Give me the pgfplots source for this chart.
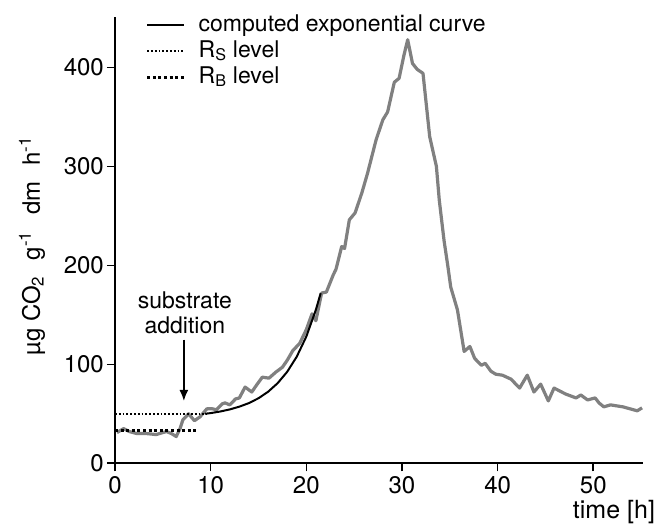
\documentclass[border=0pt]{standalone}
\usepackage{fontspec}
\setmainfont{TeX Gyre Heros}
\usepackage{pgfplots}
\pgfplotsset{compat=1.18}
\usetikzlibrary{arrows.meta}
\definecolor{curvegray}{RGB}{128,128,128}

\begin{document}
\fontsize{23}{25}\selectfont
\begin{tikzpicture}
\begin{axis}[
  scale only axis, width=528pt, height=446.3pt,
  xmin=0, xmax=55.2, ymin=0, ymax=451,
  axis lines=left, axis line style={-, line width=1.6pt},
  tick align=outside, major tick length=8pt,
  tick style={line width=1.6pt, black},
  xtick={0,10,...,50}, ytick={0,100,...,400},
  ticklabel style={font=\fontsize{24}{26}\selectfont},
  /pgf/number format/assume math mode=true,
  yticklabel style={inner xsep=3pt},
  xticklabel style={inner ysep=5pt},
  clip=false,
  xlabel={time [h]},
  xlabel style={at={(axis description cs:1.023,-0.083)}, anchor=north east, inner sep=0pt, font=\fontsize{25}{26}\selectfont},
  ylabel={µg CO\textsubscript{2}\hspace{0.4em} g\textsuperscript{-1}\hspace{0.4em} dm\hspace{0.4em} h\textsuperscript{-1}},
  ylabel style={at={(axis description cs:-0.157,0.487)}, anchor=center, inner sep=0pt, font=\fontsize{24}{26}\selectfont},
  legend style={draw=none, fill=none, at={(axis description cs:0.052,1.016)}, anchor=north west,
    font=\fontsize{23}{25}\selectfont, row sep=0pt,
    nodes={text height=17pt, text depth=5pt, inner ysep=2pt, inner xsep=2pt},
    /tikz/every odd column/.append style={column sep=11pt}},
  legend cell align=left,
  legend image code/.code={\draw[#1] (0pt,0pt) -- (37pt,0pt);},
]
% measured respiration
\addplot[curvegray, line width=3.2pt, line join=round, forget plot] coordinates {
(0.2,31)(0.9,35)(1.5,32)(2.3,30)(3.3,30)(4.3,29)(5.0,31)(5.4,32)(5.9,30)(6.4,27)
(6.8,35)(7.1,44)(7.7,50)(8.3,43)(8.9,47)(9.6,55)(10.2,55)(10.6,54)(11.2,60)(11.5,61)
(12.0,59)(12.6,65)(13.0,66)(13.6,77)(14.3,72)(14.8,79)(15.4,87)(16.1,86)(16.8,92)
(17.5,97)(18.0,104)(18.6,114)(19.3,121)(20.0,135)(20.6,151)(21.0,144)(21.6,172)
(22.1,173)(22.8,190)(23.1,196)(23.7,219)(24.0,217)(24.5,246)(25.1,253)(25.8,273)
(26.4,293)(27.3,327)(28.0,347)(28.5,355)(29.2,385)(29.7,389)(30.2,412)(30.6,428)
(31.1,404)(31.6,398)(32.2,394)(32.9,330)(33.6,300)(33.9,266)(34.4,225)(34.8,199)
(35.1,178)(35.8,155)(36.5,113)(37.1,118)(37.6,106)(38.3,99)(38.7,101)(39.3,93)
(39.8,90)(40.5,89)(41.4,85)(42.3,76)(43.1,89)(43.8,72)(44.5,80)(45.3,63)(45.9,76)
(47.1,70)(48.2,66)(48.7,69)(49.4,64)(50.2,66)(50.6,61)(51.1,57)(51.8,59)(53.1,57)
(54.6,53)(55.1,56)};
% computed exponential curve
\addplot[black, line width=2pt] coordinates {
(9.4,50)(10,50.7)(11,52.3)(12,54.4)(13,57.2)(14,60.8)(15,65.7)(16,72.2)(17,80.9)
(18,92.4)(19,107.7)(20,128)(21,155.1)(21.5,171.8)};
\addlegendentry{computed exponential curve}
% Rs level
\addplot[black, line width=1.8pt, dash pattern=on 1.8pt off 2pt] coordinates {(0,50)(9.6,50)};
\addlegendentry{R\textsubscript{S} level}
% Rb level
\addplot[black, line width=3pt, dash pattern=on 3pt off 2.6pt] coordinates {(0,33)(8.7,33)};
\addlegendentry{R\textsubscript{B} level}
\node[anchor=south, align=center, inner sep=0pt, font=\fontsize{23}{25}\selectfont]
  at (axis cs:7.3,131) {substrate\\addition};
\draw[line width=1.6pt, -{Latex[length=11pt, width=9pt]}] (axis cs:7.2,125) -- (axis cs:7.2,63);
\path (axis description cs:-0.2178,-0.1494) rectangle (axis description cs:1.0284,1.038);
\end{axis}
\end{tikzpicture}
\end{document}
